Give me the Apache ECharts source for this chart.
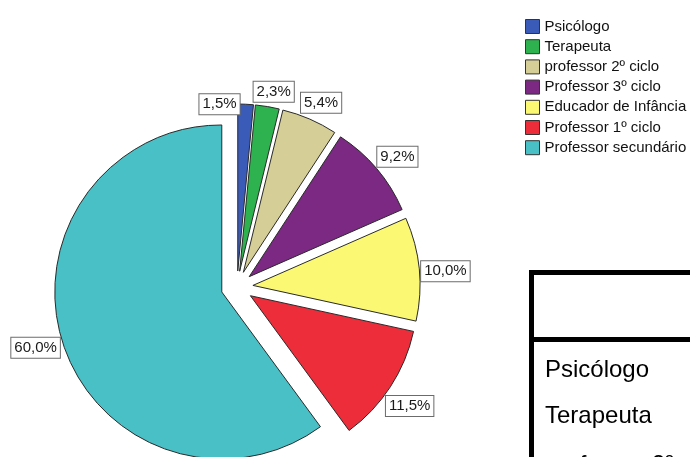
<!DOCTYPE html>
<html>
<head>
<meta charset="utf-8">
<script src="https://cdn.jsdelivr.net/npm/echarts@6/dist/echarts.min.js"></script>
<style>
  html, body { margin: 0; padding: 0; background: #ffffff; }
  #chart { width: 690px; height: 457px; }
</style>
</head>
<body>
<div id="chart"></div>
<script>
// Category names, shares (%) and slice colours
const categories = ['Psicólogo', 'Terapeuta', 'professor 2º ciclo', 'Professor 3º ciclo',
                    'Educador de Infância', 'Professor 1º ciclo', 'Professor secundário'];
const percentages = [1.5, 2.3, 5.4, 9.2, 10.0, 11.5, 60.0];
const sliceColors = ['#3b5bb8', '#2eb24f', '#d5ce97', '#7b2983', '#fbf874', '#ee2d3b', '#48c0c6'];

// Rows of the frequency table drawn beside the pie
const tableRows = ['Psicólogo', 'Terapeuta', 'professor 2º ciclo'];

// Pie geometry
const PIE_CX = 237, PIE_CY = 287, PIE_R = 167, EXPLODE = 16;
const LABEL_GAP = 1;                       // space between arc and value box
const LABEL_TURN = 1.5 * Math.PI / 180;    // value boxes lean slightly clockwise
const FONT = "'Liberation Sans', Arial, sans-serif";

const total = percentages.reduce((a, b) => a + b, 0);
const midAngles = [];
(function () {
  let acc = 0;
  percentages.forEach(v => { midAngles.push((acc + v / 2) / total * 2 * Math.PI); acc += v; });
})();

// Centre of the exploded slice i (its own apex)
function sliceApex(i) {
  const a = midAngles[i];
  return [PIE_CX + EXPLODE * Math.sin(a), PIE_CY - EXPLODE * Math.cos(a)];
}

// Box centre so that a w x h box just clears the arc of slice i
function boxCentre(i, w, h) {
  const a = midAngles[i] + LABEL_TURN;
  const dx = Math.sin(a), dy = -Math.cos(a);
  const reach = PIE_R + LABEL_GAP + Math.abs(dx) * w / 2 + Math.abs(dy) * h / 2;
  const p = sliceApex(i);
  return [p[0] + reach * dx, p[1] + reach * dy];
}

// A box that would collide with its clockwise neighbour is tucked to the left of its arc.
function placeLabel(params) {
  const i = params.dataIndex;
  const w = params.labelRect.width, h = params.labelRect.height;
  let c = boxCentre(i, w, h);
  if (i + 1 < percentages.length) {
    const n = boxCentre(i + 1, w, h);
    if (Math.abs(c[0] - n[0]) < w && Math.abs(c[1] - n[1]) < h) {
      const p = sliceApex(i), a = midAngles[i];
      const anchor = [p[0] + PIE_R * Math.sin(a), p[1] - PIE_R * Math.cos(a)];
      c = [anchor[0] - 4 - w / 2, anchor[1]];
    }
  }
  let x = c[0];
  if (params.align === 'left') x = c[0] - w / 2;
  else if (params.align === 'right') x = c[0] + w / 2;
  return { x: x, y: c[1] };
}

const chart = echarts.init(document.getElementById('chart'), null, { renderer: 'canvas' });

const tableRowY = [370, 416, 465];
const tableGraphics = [
  { type: 'rect', shape: { x: 529, y: 270, width: 5, height: 187 }, style: { fill: '#000' } },
  { type: 'rect', shape: { x: 529, y: 270, width: 161, height: 5 }, style: { fill: '#000' } },
  { type: 'rect', shape: { x: 529, y: 337, width: 161, height: 5 }, style: { fill: '#000' } }
].concat(tableRows.map((t, k) => ({
  type: 'text',
  x: 545,
  y: tableRowY[k],
  style: { text: t, fill: '#000', font: "24px 'Liberation Sans', Arial, sans-serif",
           textAlign: 'left', textVerticalAlign: 'middle' }
})));

const sliceData = categories.map((name, i) => ({ name: name, value: percentages[i] }));

chart.setOption({
  animation: false,
  backgroundColor: '#ffffff',
  legend: {
    orient: 'vertical',
    left: 520,
    top: 14,
    itemWidth: 14,
    itemHeight: 14,
    itemGap: 5.2,
    icon: 'rect',
    selectedMode: false,
    itemStyle: { borderColor: '#333', borderWidth: 1 },
    textStyle: { fontFamily: FONT, fontSize: 15, color: '#111', padding: [0, 0, 0, 0] },
    data: categories
  },
  graphic: tableGraphics,
  series: [{
    // exploded slices
    type: 'pie',
    center: [PIE_CX, PIE_CY],
    radius: PIE_R,
    startAngle: 90,
    clockwise: true,
    selectedMode: 'multiple',
    selectedOffset: EXPLODE,
    data: sliceData.map((d, i) => Object.assign({}, d, { selected: true, itemStyle: { color: sliceColors[i] } })),
    itemStyle: { borderColor: '#2a2a2a', borderWidth: 1 },
    select: { itemStyle: { borderColor: '#2a2a2a', borderWidth: 1 } },
    emphasis: { disabled: true },
    label: { show: false },
    labelLine: { show: false }
  }, {
    // value boxes
    type: 'pie',
    center: [PIE_CX, PIE_CY],
    radius: PIE_R,
    startAngle: 90,
    clockwise: true,
    silent: true,
    avoidLabelOverlap: false,
    data: sliceData,
    itemStyle: { color: 'rgba(0,0,0,0)', borderWidth: 0 },
    emphasis: { disabled: true },
    label: {
      show: true,
      position: 'outside',
      formatter: p => p.value.toFixed(1).replace('.', ',') + '%',
      fontFamily: FONT,
      fontSize: 15,
      lineHeight: 16,
      color: '#1a1a1a',
      backgroundColor: '#ffffff',
      borderColor: '#6b6b6b',
      borderWidth: 1,
      padding: [2, 3, 2, 3]
    },
    labelLine: { show: false },
    labelLayout: placeLabel
  }]
});
</script>
</body>
</html>
